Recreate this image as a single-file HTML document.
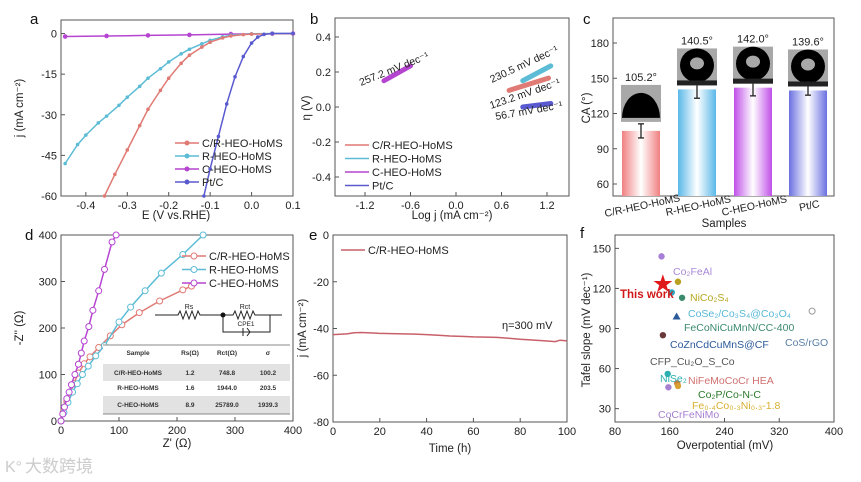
<!DOCTYPE html>
<html><head><meta charset="utf-8">
<style>
html,body{margin:0;padding:0;background:#fff;}
svg{display:block;font-family:"Liberation Sans","Noto Sans CJK SC",sans-serif;}
</style></head>
<body>
<svg id="fig" width="861" height="482" viewBox="0 0 861 482" xmlns="http://www.w3.org/2000/svg"></svg>
<script>
// ---------- DATA ----------
// panel a
const aCR_E=[-0.355,-0.33,-0.3,-0.27,-0.25,-0.22,-0.2,-0.17,-0.15,-0.12,-0.1,-0.07,-0.05,-0.02,0,0.05,0.1];
const aCR_j=[-60,-52,-43,-34,-28,-21,-16.5,-11,-8,-5,-3.2,-1.6,-0.9,-0.4,-0.2,-0.1,-0.1];
const aR_E=[-0.45,-0.42,-0.4,-0.37,-0.35,-0.32,-0.3,-0.27,-0.25,-0.22,-0.2,-0.17,-0.15,-0.12,-0.1,-0.07,-0.05,0,0.05,0.1];
const aR_j=[-48,-41,-37.5,-33,-30.5,-26.5,-23.5,-19.5,-16.5,-13,-10.5,-7.5,-5.8,-3.8,-2.5,-1.2,-0.6,-0.1,0,0];
const aC_E=[-0.45,-0.35,-0.25,-0.15,-0.05,0.05,0.1];
const aC_j=[-1.1,-0.9,-0.7,-0.5,-0.2,-0.05,0];
const aPt_E=[-0.115,-0.1,-0.08,-0.06,-0.04,-0.02,0,0.015,0.03,0.05,0.1];
const aPt_j=[-60,-50,-38,-26,-16,-8.5,-3.5,-1.3,-0.3,0,0];
const aXTicks=[-0.4,-0.3,-0.2,-0.1,0.0,0.1];
const aYTicks=[0,-15,-30,-45,-60];
// panel b
const bSeries=["C/R-HEO-HoMS","R-HEO-HoMS","C-HEO-HoMS","Pt/C"];
const bX0=[0.7,0.88,-0.95,0.88];
const bX1=[1.22,1.25,-0.6,1.25];
const bY0=[0.095,0.15,0.15,0.0];
const bY1=[0.165,0.235,0.235,0.02];
const bSlopes=["123.2","230.5","257.2","56.7"];
const bXTicks=[-1.2,-0.6,0.0,0.6,1.2];
const bYTicks=[0.4,0.2,0.0,-0.2,-0.4];
// panel c
const cCats=["C/R-HEO-HoMS","R-HEO-HoMS","C-HEO-HoMS","Pt/C"];
const cVals=[105.2,140.5,142.0,139.6];
const cErr=[6,7.5,7,4];
const cYTicks=[60,90,120,150,180];
// panel d
const dCR_x=[0,4,10,16,22,30,40,50,65,85,105,135,170,210,225];
const dCR_y=[0,20,42,62,80,103,123,138,158,183,207,233,258,282,290];
const dR_x=[0,5,12,20,28,37,47,60,75,100,120,145,173,210,245];
const dR_y=[0,18,40,62,80,100,118,140,162,213,245,280,318,358,400];
const dC_x=[0,3,6,10,14,18,24,30,35,40,48,55,65,75,88,95];
const dC_y=[0,15,30,48,62,78,100,122,146,172,203,238,280,326,385,400];
const dXTicks=[0,100,200,300,400];
const dYTicks=[0,100,200,300,400];
// panel e
const eT=[0,3,6,9,12,16,20,25,30,35,40,45,50,55,60,65,70,75,80,85,90,95,97,100];
const eJ=[-42.6,-42.5,-42.3,-41.8,-41.7,-41.9,-42.1,-42.2,-42.3,-42.4,-42.6,-42.9,-43.2,-43.4,-43.6,-43.7,-43.8,-44.2,-44.6,-44.9,-45.2,-45.6,-45,-45.3];
const eXTicks=[0,20,40,60,80,100];
const eYTicks=[0,-20,-40,-60,-80];
// panel f
const fEta=[148,150,172,163,178,170,150,157,158,171,172,368];
const fTafel=[144,123,125,117,113,99,85,56,46,49,47,103];
const fColors=["#a77fd6","#e01a1a","#b8a020","#2aa8c2","#3b8a6e","#2a5a9a","#6a3a3a","#2ab0b0","#a880d0","#c4783a","#d8a030","#999"];
const fXTicks=[80,160,240,320,400];
const fYTicks=[30,60,90,120,150];

// ---------- HELPERS ----------
const NS="http://www.w3.org/2000/svg";
const svg=document.getElementById('fig');
function mk(tag,attrs,parent){const e=document.createElementNS(NS,tag);for(const k in attrs)e.setAttribute(k,attrs[k]);(parent||svg).appendChild(e);return e;}
function lin(d0,d1,r0,r1){return v=>r0+(v-d0)*(r1-r0)/(d1-d0);}
function txt(x,y,s,size,opts,parent){const t=mk('text',Object.assign({x:x,y:y,'font-size':size,fill:'#222'},opts||{}),parent);t.textContent=s;return t;}
function axes(name,L,T,R,B,sx,sy,xt,yt,xfmt,yfmt){
  const g=mk('g',{});
  
  
  mk('rect',{x:L,y:T,width:R-L,height:B-T,fill:'none',stroke:'#555','stroke-width':1},g);
  xt.forEach(v=>{const x=sx(v);mk('line',{x1:x,x2:x,y1:B,y2:B-4,stroke:'#555'},g);txt(x,B+13,xfmt(v),11,{'text-anchor':'middle'},g);});
  yt.forEach(v=>{const y=sy(v);mk('line',{x1:L,x2:L+4,y1:y,y2:y,stroke:'#555'},g);txt(L-4,y+4,yfmt(v),11,{'text-anchor':'end'},g);});
  return g;
}
function pathD(xs,ys,sx,sy){return xs.map((v,i)=>(i?'L':'M')+sx(v).toFixed(1)+','+sy(ys[i]).toFixed(1)).join('');}
function series(name,xs,ys,sx,sy,color,marker,r){
  const g=mk('g',{});
  
  
  mk('path',{d:pathD(xs,ys,sx,sy),fill:'none',stroke:color,'stroke-width':1.5},g);
  if(marker){xs.forEach((v,i)=>{mk('circle',{cx:sx(v),cy:sy(ys[i]),r:r,fill:marker==='open'?'#fff':color,stroke:color,'stroke-width':1},g);});}
  return g;
}
function panelLabel(s,x,y){const t=txt(x,y,s,15,{fill:'#111'});}
function legend(name,x,y,dy,labels,colors,marker){
  const g=mk('g',{});
  
  
  labels.forEach((l,i)=>{const yy=y+i*dy;mk('line',{x1:x,x2:x+24,y1:yy,y2:yy,stroke:colors[i],'stroke-width':1.5},g);
    if(marker)mk('circle',{cx:x+12,cy:yy,r:marker==='open'?3:2,fill:marker==='open'?'#fff':colors[i],stroke:colors[i]},g);
    txt(x+27,yy+4,l,11,{},g);});
}
const COL={cr:"#e07a74",r:"#5cbcd6",c:"#b545d0",pt:"#5a5ad0"};
const f1=v=>v.toFixed(1);

// ---------- PANEL A ----------
{const L=61,T=20,R=293,B=196;const sx=lin(-0.46,0.1,L,R),sy=lin(5,-60,T,B);
axes('panel-a',L,T,R,B,sx,sy,aXTicks,aYTicks,f1,v=>String(v));
series('series-c-heo-a',aC_E,aC_j,sx,sy,COL.c,'fill',1.8);
series('series-r-heo-a',aR_E,aR_j,sx,sy,COL.r,'fill',1.3);
series('series-cr-heo-a',aCR_E,aCR_j,sx,sy,COL.cr,'fill',1.3);
series('series-pt-a',aPt_E,aPt_j,sx,sy,COL.pt,'fill',1.3);
legend('legend-a',175,143,13,bSeries,[COL.cr,COL.r,COL.c,COL.pt],'fill');
txt(176,219,'E (V vs.RHE)',11.5,{'text-anchor':'middle'});
txt(0,0,'j (mA cm⁻²)',11.5,{'text-anchor':'middle',transform:'translate(23,108) rotate(-90)'});
panelLabel('a',30,24);}

// ---------- PANEL B ----------
{const L=335,T=18,R=569,B=196;const sx=lin(-1.2,1.2,365,547),sy=lin(0.4,-0.4,37,177);
axes('panel-b',L,T,R,B,sx,sy,bXTicks,bYTicks,f1,f1);
const cols=[COL.cr,COL.r,COL.c,COL.pt];
bSeries.forEach((s,i)=>{const l=mk('line',{x1:sx(bX0[i]),y1:sy(bY0[i]),x2:sx(bX1[i]),y2:sy(bY1[i]),stroke:cols[i],'stroke-width':5,'stroke-linecap':'round'});
  
  });
txt(0,0,'257.2 mV dec⁻¹',10.5,{transform:'translate(361,86) rotate(-22)'});
txt(0,0,'230.5 mV dec⁻¹',10.5,{transform:'translate(492,83) rotate(-25)'});
txt(0,0,'123.2 mV dec⁻¹',10.5,{transform:'translate(491,109) rotate(-19)'});
txt(0,0,'56.7 mV dec⁻¹',10.5,{transform:'translate(496,120) rotate(-10)'});
legend('legend-b',345,145,13.5,bSeries,cols,null);
txt(452,219,'Log j (mA cm⁻²)',11.5,{'text-anchor':'middle'});
txt(0,0,'η (V)',11.5,{'text-anchor':'middle',transform:'translate(310,108) rotate(-90)'});
panelLabel('b',310,24);}

// ---------- PANEL C ----------
{const L=613,T=18,R=834,B=196;const sy=lin(180,60,43,184);
const defs=mk('defs',{});
const gcols=[["#f08080","#fff"],["#5ab8e8","#fff"],["#c050e8","#fff"],["#6a70e0","#fff"]];
gcols.forEach((c,i)=>{const g=mk('linearGradient',{id:'gc'+i,x1:0,x2:1,y1:0,y2:0},defs);
  mk('stop',{offset:'0','stop-color':c[0]},g);mk('stop',{offset:'0.5','stop-color':c[1]},g);mk('stop',{offset:'1','stop-color':c[0]},g);});
axes('panel-c',L,T,R,B,v=>0,sy,[],cYTicks,f1,v=>String(v));
const cx=[641,697,753,808];
cCats.forEach((cat,i)=>{const g=mk('g',{});
  
  
  const y=sy(cVals[i]);
  mk('rect',{x:cx[i]-19,y:y,width:38,height:B-y,fill:'url(#gc'+i+')'},g);
  mk('line',{x1:cx[i],x2:cx[i],y1:sy(cVals[i]+cErr[i]),y2:sy(cVals[i]-cErr[i]),stroke:'#222','stroke-width':1.3},g);
  [cVals[i]+cErr[i],cVals[i]-cErr[i]].forEach(v=>mk('line',{x1:cx[i]-3,x2:cx[i]+3,y1:sy(v),y2:sy(v),stroke:'#222','stroke-width':1.3},g));
  const ib=(i===0)?y-9:sy(cVals[i])-4;
  mk('rect',{x:cx[i]-20,y:ib-37,width:40,height:37,fill:'#a8a8a8'},g);
  if(i===0){mk('path',{d:`M${cx[i]-19},${ib-4} A19,25 0 0 1 ${cx[i]+19},${ib-4} Z`,fill:'#000'},g);}
  else{mk('circle',{cx:cx[i],cy:ib-20,r:17,fill:'#000'},g);mk('rect',{x:cx[i]-20,y:ib-5,width:40,height:5,fill:'#222'},g);mk('ellipse',{cx:cx[i],cy:ib-22,rx:7,ry:6,fill:'#a8a8a8'},g);}
  txt(cx[i],ib-41,cVals[i].toFixed(1)+'°',11,{'text-anchor':'middle'},g);
  txt(0,0,cat,10.5,{'text-anchor':'middle',transform:`translate(${cx[i]+2},${B+13}) rotate(-12)`},g);
});
txt(724,227,'Samples',11.5,{'text-anchor':'middle'});
txt(0,0,'CA (°)',11.5,{'text-anchor':'middle',transform:'translate(590,108) rotate(-90)'});
panelLabel('c',583,24);}

// ---------- PANEL D ----------
{const L=61,T=235,R=293,B=421;const sx=lin(0,400,L,R),sy=lin(0,400,B,T);
axes('panel-d',L,T,R,B,sx,sy,dXTicks,dYTicks,String,String);
series('series-cr-heo-d',dCR_x,dCR_y,sx,sy,COL.cr,'open',3);
series('series-r-heo-d',dR_x,dR_y,sx,sy,COL.r,'open',3);
series('series-c-heo-d',dC_x,dC_y,sx,sy,COL.c,'open',3);
legend('legend-d',182,256,13.5,["C/R-HEO-HoMS","R-HEO-HoMS","C-HEO-HoMS"],[COL.cr,COL.r,COL.c],'open');
const cg=mk('g',{});


mk('path',{d:'M155,315 L178,315 l2,-4 l3,8 l3,-8 l3,8 l3,-8 l3,8 l3,-8 l2,4 L223,315 L233,315 l2,-4 l3,8 l3,-8 l3,8 l3,-8 l3,8 l3,-8 l2,4 L282,315 M223,315 L223,332 L270,332 L270,315 M243,328 L243,336 M247,328 l3,4 l-3,4',fill:'none',stroke:'#222','stroke-width':1},cg);
mk('circle',{cx:223,cy:315,r:2.5,fill:'#111'},cg);
txt(189,309,'Rs',7,{'text-anchor':'middle'},cg);txt(245,309,'Rct',7,{'text-anchor':'middle'},cg);txt(246,326,'CPE1',6.5,{'text-anchor':'middle'},cg);
const tg=mk('g',{});


mk('rect',{x:103,y:345,width:187,height:70,fill:'#fff'},tg);
mk('rect',{x:103,y:364,width:187,height:17,fill:'#e2e2e2'},tg);
mk('rect',{x:103,y:396,width:187,height:18,fill:'#e2e2e2'},tg);
mk('line',{x1:103,x2:290,y1:345,y2:345,stroke:'#888'},tg);mk('line',{x1:103,x2:290,y1:414,y2:414,stroke:'#888'},tg);
const rows=[["Sample","Rs(Ω)","Rct(Ω)","σ"],["C/R-HEO-HoMS","1.2","748.8","100.2"],["R-HEO-HoMS","1.6","1944.0","203.5"],["C-HEO-HoMS","8.9","25789.0","1939.3"]];
const ry=[355,375,390,407],cxs=[138,190,227,268];
rows.forEach((r,i)=>r.forEach((c,j)=>txt(cxs[j],ry[i],c,6.5,{'text-anchor':'middle','font-weight':'bold',fill:'#333'},tg)));
txt(177,447,"Z' (Ω)",11.5,{'text-anchor':'middle'});
txt(0,0,"-Z'' (Ω)",11.5,{'text-anchor':'middle',transform:'translate(23,328) rotate(-90)'});
panelLabel('d',25,240);}

// ---------- PANEL E ----------
{const L=333,T=235,R=567,B=422;const sx=lin(0,100,L,R),sy=lin(0,-80,T,B);
axes('panel-e',L,T,R,B,sx,sy,eXTicks,eYTicks,String,String);
series('series-stability-e',eT,eJ,sx,sy,"#c8606a",null,0);
legend('legend-e',341,250,0,["C/R-HEO-HoMS"],["#c8606a"],null);
txt(502,329,'η=300 mV',11,{});
txt(450,452,'Time (h)',11.5,{'text-anchor':'middle'});
txt(0,0,'j (mA cm⁻²)',11.5,{'text-anchor':'middle',transform:'translate(306,328) rotate(-90)'});
panelLabel('e',309,240);}

// ---------- PANEL F ----------
{const L=615,T=235,R=834,B=422;const sx=lin(80,400,L,R),sy=lin(160,20,T,B);
axes('panel-f',L,T,R,B,sx,sy,fXTicks,fYTicks,String,String);
fEta.forEach((v,i)=>{const x=sx(v),y=sy(fTafel[i]);let e;
  if(i===1){e=mk('text',{x:x,y:y+6,'font-size':20,fill:fColors[i],'text-anchor':'middle'});e.textContent='★';}
  else if(i===11){e=mk('circle',{cx:x,cy:y,r:3,fill:'#fff',stroke:fColors[i]});}
  else if(i===5){e=mk('path',{d:`M${x},${y-4} L${x+4},${y+3} L${x-4},${y+3} Z`,fill:fColors[i]});}
  else{e=mk('circle',{cx:x,cy:y,r:3.2,fill:fColors[i]});}
  
  });
const lbl=[["This work",620,298,"#d01818",'bold'],["Co₂FeAl",673,275,"#a98ad8"],["NiCo₂S₄",690,301,"#b8a820"],["CoSe₂/Co₃S₄@Co₃O₄",688,317,"#58b8d8"],["FeCoNiCuMnN/CC-400",684,331,"#3b8a6e"],["CoZnCdCuMnS@CF",670,348,"#2a5a9a"],["CoS/rGO",785,346,"#5a80a8"],["CFP_Cu₂O_S_Co",650,365,"#555"],["NiSe₂",660,382,"#2ab0b0"],["NiFeMoCoCr HEA",688,384,"#d07070"],["Co₂P/Co-N-C",698,398,"#2a7a2a"],["Fe₀.₄Co₀.₃Ni₀.₃-1.8",692,409,"#d8b030"],["CoCrFeNiMo",658,418,"#a880d0"]];
lbl.forEach((l,i)=>{const t=txt(l[1],l[2],l[0],i===0?11.5:10.5,{fill:l[3],'font-weight':l[4]||'normal'});
  
  });
txt(725,449,'Overpotential (mV)',11.5,{'text-anchor':'middle'});
txt(0,0,'Tafel slope (mV dec⁻¹)',11.5,{'text-anchor':'middle',transform:'translate(590,330) rotate(-90)'});
panelLabel('f',580,238);}

// watermark
{const w=txt(25,472,'大数跨境',17,{fill:'#ccc'});


const c=mk('text',{x:5,y:472,'font-size':16,fill:'#ccc'});c.textContent='K°';

}
</script>
</body></html>
